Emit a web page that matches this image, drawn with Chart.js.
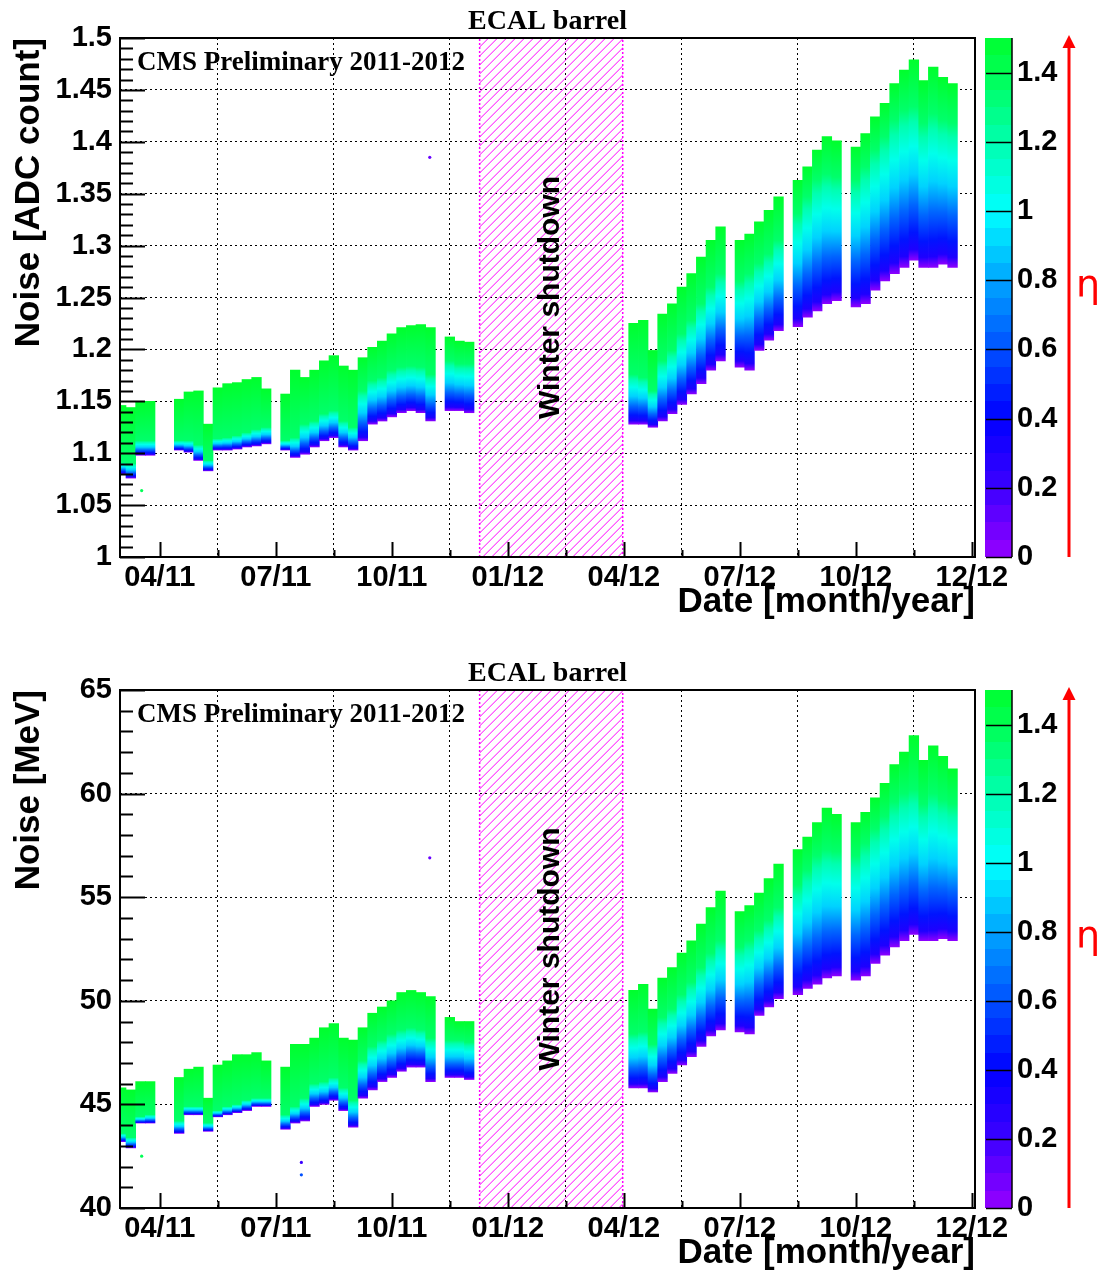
<!DOCTYPE html>
<html>
<head>
<meta charset="utf-8">
<title>ECAL barrel noise 2011-2012</title>
<script src="https://cdn.jsdelivr.net/npm/chart.js@4.4.1/dist/chart.umd.min.js"></script>
<style>
  html, body { margin: 0; padding: 0; background: #fff; }
  canvas { display: block; }
</style>
</head>
<body>
<canvas id="adc-chart" width="1107" height="652"></canvas>
<canvas id="mev-chart" width="1107" height="622"></canvas>
<script>
// Dates: months since 1 Jan 2011, about one sample per week (null = no data)
const months = [
  2, 2.25, 2.5, 2.75, 3, 3.25,
  3.5, 3.75, 4, 4.25,
  4.5, 4.75, 5, 5.25, 5.5, 5.75, 6,
  6.25, 6.5, 6.75, 7, 7.25, 7.5, 7.75, 8,
  8.25, 8.5, 8.75, 9, 9.25, 9.5, 9.75, 10, 10.25,
  10.5, 10.75, 11,
  15.25, 15.5, 15.75, 16, 16.25, 16.5, 16.75, 17, 17.25, 17.5, 17.75,
  18, 18.25, 18.5, 18.75, 19, 19.25,
  19.5, 19.75, 20, 20.25, 20.5, 20.75,
  21, 21.25, 21.5, 21.75, 22, 22.25, 22.5, 22.75, 23, 23.25, 23.5
];

// Noise in ADC counts: lowest channels (eta ~ 0), start of the green part, highest (eta ~ 1.5)
const adcLow = [
  1.080, 1.076, 1.098, 1.098, null, null,
  1.103, 1.101, 1.093, 1.083,
  1.103, 1.103, 1.104, 1.106, 1.107, 1.109, null,
  1.103, 1.096, 1.099, 1.106, 1.112, 1.115, 1.106, 1.103,
  1.112, 1.128, 1.131, 1.135, 1.139, 1.141, 1.139, 1.131, null,
  1.141, 1.141, 1.139,
  1.128, 1.128, 1.125, 1.131, 1.138, 1.147, 1.157, 1.167, 1.180, 1.189, null,
  1.183, 1.180, 1.199, 1.209, 1.218, null,
  1.222, 1.231, 1.237, 1.244, 1.247, null,
  1.241, 1.244, 1.257, 1.266, 1.273, 1.279, 1.286, 1.279, 1.279, 1.282, 1.279
];
const adcGreen = [
  1.091, 1.090, 1.112, 1.112, null, null,
  1.112, 1.112, 1.108, 1.093,
  1.114, 1.115, 1.117, 1.120, 1.123, 1.125, null,
  1.112, 1.115, 1.128, 1.131, 1.138, 1.141, 1.131, 1.125,
  1.160, 1.170, 1.173, 1.180, 1.183, 1.184, 1.183, 1.176, null,
  1.189, 1.186, 1.186,
  1.176, 1.173, 1.160, 1.189, 1.199, 1.215, 1.228, 1.244, 1.260, 1.273, null,
  1.266, 1.273, 1.283, 1.292, 1.305, null,
  1.331, 1.347, 1.363, 1.369, 1.366, null,
  1.363, 1.376, 1.392, 1.405, 1.421, 1.430, 1.434, 1.418, 1.427, 1.421, 1.418
];
const adcHigh = [
  1.146, 1.144, 1.149, 1.150, null, null,
  1.152, 1.159, 1.160, 1.128,
  1.163, 1.167, 1.168, 1.171, 1.173, 1.162, null,
  1.157, 1.180, 1.173, 1.180, 1.189, 1.194, 1.184, 1.180,
  1.192, 1.202, 1.208, 1.215, 1.221, 1.223, 1.224, 1.221, null,
  1.212, 1.208, 1.207,
  1.225, 1.228, 1.199, 1.234, 1.244, 1.260, 1.273, 1.289, 1.305, 1.318, null,
  1.305, 1.311, 1.323, 1.334, 1.347, null,
  1.363, 1.376, 1.392, 1.405, 1.401, null,
  1.395, 1.408, 1.424, 1.437, 1.456, 1.469, 1.479, 1.459, 1.472, 1.462, 1.456
];

// Same in MeV
const mevLow = [
  43.2, 42.9, 44.1, 44.1, null, null,
  43.6, 44.5, 44.5, 43.7,
  44.4, 44.5, 44.6, 44.7, 44.9, 44.9, null,
  43.8, 44.1, 44.2, 44.9, 45.0, 45.2, 44.7, 43.9,
  45.3, 45.7, 46.1, 46.3, 46.6, 46.8, 46.8, 46.1, null,
  46.3, 46.3, 46.2,
  45.8, 45.8, 45.6, 46.1, 46.5, 46.9, 47.3, 47.8, 48.3, 48.6, null,
  48.5, 48.4, 49.3, 49.7, 50.1, null,
  50.3, 50.6, 50.8, 51.1, 51.2, null,
  51.0, 51.2, 51.8, 52.2, 52.6, 52.9, 53.2, 52.9, 52.9, 53.0, 52.9
];
const mevGreen = [
  43.6, 43.4, 44.4, 44.5, null, null,
  44.2, 44.9, 44.9, 44.1,
  44.7, 44.9, 45.0, 45.2, 45.3, 45.3, null,
  44.5, 44.9, 45.3, 46.0, 46.1, 46.3, 45.8, 45.2,
  47.1, 47.8, 48.1, 48.4, 48.6, 48.7, 48.6, 48.2, null,
  48.1, 48.1, 48.0,
  48.4, 48.5, 47.9, 49.2, 49.6, 50.3, 50.9, 51.6, 52.3, 52.9, null,
  52.6, 52.9, 53.4, 53.9, 54.5, null,
  55.6, 56.3, 57.0, 57.3, 57.2, null,
  57.0, 57.6, 58.3, 58.9, 59.6, 60.0, 60.2, 59.5, 60.0, 59.7, 59.5
];
const mevHigh = [
  45.8, 45.7, 46.1, 46.1, null, null,
  46.3, 46.7, 46.8, 45.3,
  46.9, 47.1, 47.4, 47.4, 47.5, 47.1, null,
  46.8, 47.9, 47.9, 48.2, 48.7, 48.9, 48.2, 48.1,
  48.7, 49.4, 49.7, 50.0, 50.4, 50.5, 50.4, 50.2, null,
  49.2, 49.0, 49.0,
  50.5, 50.8, 49.6, 51.1, 51.6, 52.3, 52.9, 53.7, 54.5, 55.3, null,
  54.3, 54.6, 55.2, 55.9, 56.6, null,
  57.3, 57.9, 58.6, 59.3, 59.0, null,
  58.6, 59.1, 59.8, 60.5, 61.4, 62.0, 62.8, 61.6, 62.3, 61.8, 61.2
];

// Isolated channels
const adcOutliers = [{ x: 9.98, y: 1.385, eta: 0.1 }, { x: 2.53, y: 1.064, eta: 1.4 }];
const mevOutliers = [{ x: 9.98, y: 56.9, eta: 0.1 }, { x: 2.53, y: 42.5, eta: 1.4 },
                     { x: 6.66, y: 42.2, eta: 0.2 }, { x: 6.66, y: 41.6, eta: 0.6 }];

const tickMonths = [3, 6, 9, 12, 15, 18, 21, 24];
const tickLabels = ['04/11', '07/11', '10/11', '01/12', '04/12', '07/12', '10/12', '12/12'];
const shutdown = [11.27, 14.97];
const etaTicks = [0, 0.2, 0.4, 0.6, 0.8, 1, 1.2, 1.4];

// Palette of the eta colour axis
const paletteEta = [0, 0.2, 0.4, 0.6, 0.8, 1.0, 1.2, 1.4, 1.5];
const paletteRgb = [[150, 0, 255], [60, 0, 255], [0, 0, 255], [0, 80, 255], [0, 165, 255],
                    [0, 255, 255], [0, 255, 175], [0, 255, 85], [0, 255, 45]];

const SANS = '"Liberation Sans", Arial, Helvetica, sans-serif';
const SERIF = '"Liberation Serif", "Times New Roman", serif';

function etaColor(eta) {
  let i = 0;
  while (i < paletteEta.length - 2 && eta > paletteEta[i + 1]) i++;
  const t = Math.max(0, Math.min(1, (eta - paletteEta[i]) / (paletteEta[i + 1] - paletteEta[i])));
  const a = paletteRgb[i], b = paletteRgb[i + 1];
  const c = a.map((v, k) => Math.round(v + (b[k] - v) * t));
  return `rgb(${c[0]}, ${c[1]}, ${c[2]})`;
}

// Vertical colour gradient of one weekly strip: purple at the bottom, green from "g" upwards
function bandGradient(context) {
  const chart = context.chart;
  const raw = context.raw;
  if (!chart.chartArea || !raw || !Array.isArray(raw.y)) return etaColor(1.4);
  const yScale = chart.scales.y;
  const lo = raw.y[0], hi = raw.y[1];
  const yLo = yScale.getPixelForValue(lo);
  const yHi = yScale.getPixelForValue(hi);
  if (Math.abs(yLo - yHi) < 1) return etaColor(1.4);
  const grad = chart.ctx.createLinearGradient(0, yLo, 0, yHi);
  const split = Math.max(0, Math.min(1, (raw.g - lo) / (hi - lo)));
  const steps = [[0, 0.02], [0.07, 0.3], [0.18, 0.45], [0.36, 0.65], [0.56, 0.9],
                 [0.74, 1.05], [0.9, 1.2], [1, 1.35]];
  steps.forEach(([f, eta]) => grad.addColorStop(f * split, etaColor(eta)));
  grad.addColorStop(1, etaColor(1.5));
  return grad;
}

// ROOT-like frame, inner ticks, titles, shutdown hatching and the eta colour bar
const rootDecor = {
  id: 'rootDecor',
  beforeDatasetsDraw(chart) {
    const { ctx, chartArea: a, scales: { x } } = chart;
    const x0 = x.getPixelForValue(shutdown[0]);
    const x1 = x.getPixelForValue(shutdown[1]);
    const h = a.bottom - a.top;
    ctx.save();
    ctx.beginPath();
    ctx.rect(x0, a.top, x1 - x0, h);
    ctx.clip();
    ctx.strokeStyle = '#ff00ff';
    ctx.lineWidth = 1;
    ctx.beginPath();
    for (let k = x0 - h; k < x1; k += 9) {
      ctx.moveTo(k, a.bottom);
      ctx.lineTo(k + h, a.top);
    }
    ctx.stroke();
    ctx.restore();
  },
  afterDatasetsDraw(chart) {
    const { ctx, chartArea: a, scales: { x } } = chart;
    ctx.save();
    ctx.fillStyle = '#000';
    ctx.font = 'bold 27px ' + SERIF;
    ctx.textAlign = 'left';
    ctx.textBaseline = 'alphabetic';
    ctx.fillText('CMS Preliminary 2011-2012', a.left + 17, a.top + 32);

    const cx = (x.getPixelForValue(shutdown[0]) + x.getPixelForValue(shutdown[1])) / 2;
    ctx.translate(cx, (a.top + a.bottom) / 2);
    ctx.rotate(-Math.PI / 2);
    ctx.font = 'bold 30px ' + SANS;
    ctx.textAlign = 'center';
    ctx.textBaseline = 'middle';
    ctx.fillText('Winter shutdown', 0, 0);
    ctx.restore();
  },
  afterDraw(chart, args, opts) {
    const { ctx, chartArea: a, scales: { x, y } } = chart;
    ctx.save();

    // frame
    ctx.strokeStyle = '#000';
    ctx.lineWidth = 2;
    ctx.strokeRect(a.left, a.top, a.right - a.left, a.bottom - a.top);

    // y ticks pointing inwards
    const n = Math.round((y.max - y.min) / opts.yMinor);
    const every = Math.round(opts.yMajor / opts.yMinor);
    ctx.beginPath();
    for (let k = 0; k <= n; k++) {
      const py = Math.round(y.getPixelForValue(y.min + k * opts.yMinor)) + 0.5;
      const len = k % every === 0 ? 25 : 13;
      ctx.moveTo(a.left, py);
      ctx.lineTo(a.left + len, py);
    }
    // x ticks, one minor tick between majors
    tickMonths.forEach((m) => {
      const px = Math.round(x.getPixelForValue(m)) + 0.5;
      ctx.moveTo(px, a.bottom);
      ctx.lineTo(px, a.bottom - 15);
      const mid = m + 1.5;
      if (mid < x.max) {
        const pm = Math.round(x.getPixelForValue(mid)) + 0.5;
        ctx.moveTo(pm, a.bottom);
        ctx.lineTo(pm, a.bottom - 7);
      }
    });
    ctx.stroke();

    // plot title
    ctx.fillStyle = '#000';
    ctx.font = 'bold 28px ' + SERIF;
    ctx.textAlign = 'center';
    ctx.textBaseline = 'alphabetic';
    ctx.fillText('ECAL barrel', (a.left + a.right) / 2, a.top - 9);

    // colour bar
    const bx0 = a.right + 10, bx1 = a.right + 37;
    const etaMax = 1.5, bins = 30;
    const etaPix = (e) => a.bottom - (a.bottom - a.top) * e / etaMax;
    for (let i = 0; i < bins; i++) {
      const e0 = i * etaMax / bins, e1 = (i + 1) * etaMax / bins;
      ctx.fillStyle = etaColor((e0 + e1) / 2);
      const y0 = Math.round(etaPix(e1)), y1 = Math.round(etaPix(e0));
      ctx.fillRect(bx0, y0, bx1 - bx0, y1 - y0);
    }
    ctx.strokeStyle = '#000';
    ctx.lineWidth = 1.5;
    ctx.beginPath();
    ctx.moveTo(bx1, a.top);
    ctx.lineTo(bx1, a.bottom);
    etaTicks.forEach((e) => {
      const py = Math.round(etaPix(e)) + 0.5;
      ctx.moveTo(bx0 + 1, py);
      ctx.lineTo(bx1, py);
    });
    ctx.stroke();
    ctx.fillStyle = '#000';
    ctx.font = 'bold 29px ' + SANS;
    ctx.textAlign = 'left';
    ctx.textBaseline = 'middle';
    etaTicks.forEach((e) => ctx.fillText(String(e), bx1 + 5, etaPix(e)));

    // red eta arrow
    const ax = a.right + 94;
    ctx.strokeStyle = '#ff0000';
    ctx.fillStyle = '#ff0000';
    ctx.lineWidth = 3;
    ctx.beginPath();
    ctx.moveTo(ax, a.bottom);
    ctx.lineTo(ax, a.top + 10);
    ctx.stroke();
    ctx.beginPath();
    ctx.moveTo(ax, a.top - 3);
    ctx.lineTo(ax - 6.5, a.top + 10);
    ctx.lineTo(ax + 6.5, a.top + 10);
    ctx.closePath();
    ctx.fill();
    ctx.font = '38px "DejaVu Sans", sans-serif';
    ctx.textAlign = 'left';
    ctx.textBaseline = 'alphabetic';
    ctx.fillText('\u03b7', a.right + 101, (a.top + a.bottom) / 2 - 1);

    ctx.restore();
  }
};

function makeNoiseChart(canvasId, cfg) {
  const ctx = document.getElementById(canvasId).getContext('2d');

  const strips = [];
  months.forEach((m, i) => {
    if (cfg.high[i] === null) return;
    strips.push({ x: m, y: [cfg.low[i], cfg.high[i]], g: cfg.green[i] });
  });

  // outline of the winter shutdown period
  const shutdownBox = [
    { x: shutdown[0], y: cfg.yMin }, { x: shutdown[0], y: cfg.yMax },
    { x: shutdown[1], y: cfg.yMax }, { x: shutdown[1], y: cfg.yMin }
  ];

  const tickFont = { family: SANS, size: 29, weight: 'bold' };
  const titleFont = { family: SANS, size: 35, weight: 'bold' };

  return new Chart(ctx, {
    type: 'bar',
    data: {
      datasets: [
        {
          type: 'scatter',
          data: shutdownBox,
          showLine: true,
          borderColor: '#ff00ff',
          borderWidth: 1.5,
          borderDash: [2, 2],
          pointRadius: 0,
          fill: false,
          order: 3
        },
        {
          type: 'bar',
          data: strips,
          backgroundColor: bandGradient,
          borderWidth: 0,
          barPercentage: 1,
          categoryPercentage: 1,
          order: 2
        },
        {
          type: 'scatter',
          data: cfg.outliers,
          pointRadius: 1.6,
          pointBorderWidth: 0,
          pointBackgroundColor: (c) => etaColor(c.raw ? c.raw.eta : 0),
          order: 1
        }
      ]
    },
    options: {
      responsive: false,
      animation: false,
      layout: { padding: { top: 38, right: 132, bottom: cfg.bottomPad, left: 0 } },
      plugins: {
        legend: { display: false },
        tooltip: { enabled: false },
        title: { display: false },
        rootDecor: { yMinor: cfg.yMinor, yMajor: cfg.yStep }
      },
      scales: {
        x: {
          type: 'linear',
          min: 1.97,
          max: 24.08,
          offset: false,
          afterBuildTicks: (scale) => { scale.ticks = tickMonths.map((v) => ({ value: v })); },
          afterFit: (scale) => { scale.height = 66; },
          ticks: {
            autoSkip: false,
            maxRotation: 0,
            padding: 4,
            color: '#000',
            font: tickFont,
            callback: (value, index) => tickLabels[index]
          },
          grid: { color: '#000', lineWidth: 1, drawTicks: false },
          border: { display: false, dash: [2, 3] },
          title: {
            display: true,
            text: 'Date [month/year]',
            align: 'end',
            color: '#000',
            font: titleFont,
            padding: { top: 0, bottom: 0 }
          }
        },
        y: {
          type: 'linear',
          min: cfg.yMin,
          max: cfg.yMax,
          afterFit: (scale) => { scale.width = 120; },
          ticks: {
            stepSize: cfg.yStep,
            padding: 8,
            color: '#000',
            font: tickFont,
            callback: (value) => String(Math.round(value * 100) / 100)
          },
          grid: { color: '#000', lineWidth: 1, drawTicks: false },
          border: { display: false, dash: [2, 3] },
          title: {
            display: true,
            text: cfg.yTitle,
            align: 'end',
            color: '#000',
            font: titleFont,
            padding: { top: 8, bottom: 0 }
          }
        }
      }
    },
    plugins: [rootDecor]
  });
}

makeNoiseChart('adc-chart', {
  low: adcLow, green: adcGreen, high: adcHigh, outliers: adcOutliers,
  yMin: 1, yMax: 1.5, yStep: 0.05, yMinor: 0.01,
  yTitle: 'Noise [ADC count]', bottomPad: 29
});

makeNoiseChart('mev-chart', {
  low: mevLow, green: mevGreen, high: mevHigh, outliers: mevOutliers,
  yMin: 40, yMax: 65, yStep: 5, yMinor: 1,
  yTitle: 'Noise [MeV]', bottomPad: 0
});
</script>
</body>
</html>
